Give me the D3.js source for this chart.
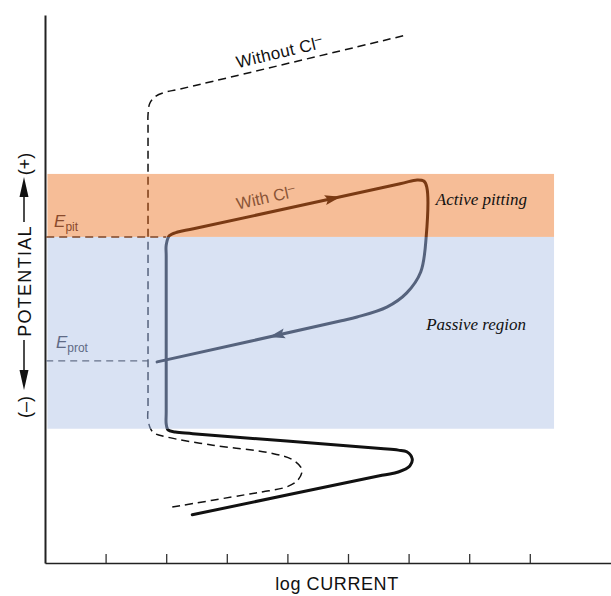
<!DOCTYPE html>
<html>
<head>
<meta charset="utf-8">
<script src="https://cdn.jsdelivr.net/npm/d3@7"></script>
<style>
  body { margin: 0; background: #fff; }
  svg { display: block; font-family: "Liberation Sans", Arial, sans-serif; }
</style>
</head>
<body>
<div id="chart"></div>
<script>
// log current in decades (x), potential in arbitrary units (y)
const xTicks = [1, 2, 3, 4, 5, 6, 7, 8];

const withCl = [
  [2.43, 8.8], [5.56, 16.0], [5.83, 16.6], [6.02, 17.7], [6.06, 19.0], [5.97, 20.3],
  [5.83, 20.6], [5.54, 20.9], [2.44, 23.6], [2.15, 23.9], [2.03, 24.3], [2.00, 25.4],
  [2.00, 27.5], [2.00, 56.0], [2.00, 58.0], [2.05, 59.7], [2.19, 60.4], [2.45, 61.0],
  [5.86, 69.2], [6.14, 69.9], [6.25, 69.7], [6.30, 68.6], [6.29, 59.5], [6.20, 53.1],
  [5.97, 49.3], [5.64, 46.7], [5.15, 44.9], [4.89, 44.2], [1.85, 36.7]
];

const withoutCl = [
  [2.10, 10.2], [3.38, 12.6], [3.60, 13.0], [3.99, 13.9], [4.17, 15.1], [4.24, 17.0],
  [4.09, 18.8], [3.71, 20.1], [2.77, 21.5], [2.01, 23.0], [1.78, 23.9], [1.70, 26.1],
  [1.70, 28.5], [1.70, 79.5], [1.70, 81.8], [1.73, 83.9], [1.83, 85.2], [1.98, 85.9],
  [2.23, 86.5], [5.91, 96.2]
];

const bandNames = ["Active pitting", "Passive region"];
const bandLow = [59.5, 24.5];
const bandHigh = [71.0, 59.5];
const bandRight = 8.4;

const ePit = 59.5;
const eProt = 36.9;

// arrows on the "with Cl-" loop: segment start index and fraction along it
const arrowSeg = [17, 27];
const arrowT = [0.675, 0.35];

const width = 611, height = 596;
const x = d3.scaleLinear().domain([0, 9.34]).range([45, 611]);
const y = d3.scaleLinear().domain([0, 100]).range([563, 15]);

const svg = d3.select("#chart").append("svg")
  .attr("width", width)
  .attr("height", height);

const bandFill = ["#f6bd97", "#d9e2f3"];

// shaded regions
svg.append("g")
  .selectAll("rect")
  .data(bandNames)
  .join("rect")
    .attr("x", x(0.04))
    .attr("width", x(bandRight) - x(0.04))
    .attr("y", (d, i) => y(bandHigh[i]))
    .attr("height", (d, i) => y(bandLow[i]) - y(bandHigh[i]))
    .attr("fill", (d, i) => bandFill[i]);

// axes
svg.append("g")
  .attr("transform", `translate(0,${y(0)})`)
  .call(d3.axisBottom(x).tickValues(xTicks).tickSizeInner(-9).tickSizeOuter(0).tickFormat(""))
  .call(g => g.select(".domain").attr("stroke", "#222").attr("stroke-width", 1.6))
  .call(g => g.selectAll(".tick line").attr("stroke", "#333").attr("stroke-width", 1.3));

svg.append("g")
  .attr("transform", `translate(${x(0)},0)`)
  .call(d3.axisLeft(y).tickValues([]).tickSizeOuter(0))
  .call(g => g.select(".domain").attr("stroke", "#222").attr("stroke-width", 2));

// reference potentials
svg.append("line")
  .attr("x1", x(0.02)).attr("x2", x(2.0))
  .attr("y1", y(ePit)).attr("y2", y(ePit))
  .attr("stroke", "#7f4526").attr("stroke-width", 1.4)
  .attr("stroke-dasharray", "8,5");

svg.append("line")
  .attr("x1", x(0.02)).attr("x2", x(1.7))
  .attr("y1", y(eProt)).attr("y2", y(eProt))
  .attr("stroke", "#66718a").attr("stroke-width", 1.2)
  .attr("stroke-dasharray", "7,5");

// curves, tinted by the region they pass through
const zones = [
  { lo: bandHigh[0], hi: 100, color: "#111" },
  { lo: bandLow[0], hi: bandHigh[0], color: "#7a3a14" },
  { lo: bandLow[1], hi: bandHigh[1], color: "#56637d" },
  { lo: 0, hi: bandLow[1], color: "#111" }
];

const defs = svg.append("defs");
zones.forEach((z, i) => {
  defs.append("clipPath").attr("id", "zone" + i)
    .append("rect")
    .attr("x", 0).attr("width", width)
    .attr("y", y(z.hi)).attr("height", y(z.lo) - y(z.hi));
});

const line = d3.line()
  .x(d => x(d[0]))
  .y(d => y(d[1]))
  .curve(d3.curveCatmullRom.alpha(0.5));

zones.forEach((z, i) => {
  const g = svg.append("g").attr("clip-path", `url(#zone${i})`);
  g.append("path")
    .attr("d", line(withoutCl))
    .attr("fill", "none")
    .attr("stroke", z.color)
    .attr("stroke-width", 1.5)
    .attr("stroke-dasharray", "8,5");
  g.append("path")
    .attr("d", line(withCl))
    .attr("fill", "none")
    .attr("stroke", z.color)
    .attr("stroke-width", 3)
    .attr("stroke-linejoin", "round")
    .attr("stroke-linecap", "round");
});

// direction arrows
const arrowColor = ["#7a3a14", "#56637d"];
arrowSeg.forEach((s, i) => {
  const a = withCl[s], b = withCl[s + 1], t = arrowT[i];
  const px = x(a[0] + (b[0] - a[0]) * t);
  const py = y(a[1] + (b[1] - a[1]) * t);
  const ang = Math.atan2(y(b[1]) - y(a[1]), x(b[0]) - x(a[0])) * 180 / Math.PI;
  svg.append("path")
    .attr("d", "M8,0 L-8,-5 L-5,0 L-8,5 Z")
    .attr("transform", `translate(${px},${py}) rotate(${ang})`)
    .attr("fill", arrowColor[i]);
});

// curve labels
function angle(p, q) {
  return Math.atan2(y(q[1]) - y(p[1]), x(q[0]) - x(p[0])) * 180 / Math.PI;
}
const nW = withoutCl.length;

const wo = svg.append("text")
  .attr("transform", `translate(${x(3.18)},${y(90.3)}) rotate(${angle(withoutCl[nW - 2], withoutCl[nW - 1])})`)
  .attr("font-size", 17)
  .attr("letter-spacing", 0.3)
  .attr("fill", "#111");
wo.append("tspan").text("Without Cl");
wo.append("tspan").attr("dy", -6).attr("font-size", 12).text("\u2013");

const wi = svg.append("text")
  .attr("transform", `translate(${x(3.18)},${y(64.5)}) rotate(${angle(withCl[17], withCl[18])})`)
  .attr("font-size", 16.5)
  .attr("fill", "#8a5436");
wi.append("tspan").text("With Cl");
wi.append("tspan").attr("dy", -6).attr("font-size", 12).text("\u2013");

// region labels
const bandLabelX = [6.45, 6.29];
const bandLabelY = [65.3, 42.6];
svg.append("g")
  .selectAll("text")
  .data(bandNames)
  .join("text")
    .attr("x", (d, i) => x(bandLabelX[i]))
    .attr("y", (d, i) => y(bandLabelY[i]))
    .attr("font-family", "'Liberation Serif', 'Times New Roman', serif")
    .attr("font-style", "italic")
    .attr("font-size", 17)
    .attr("fill", "#111")
    .text(d => d);

// E labels
const ep = svg.append("text")
  .attr("x", x(0.15)).attr("y", y(61.4))
  .attr("fill", "#8a4a2c").attr("font-size", 17);
ep.append("tspan").attr("font-style", "italic").text("E");
ep.append("tspan").attr("dy", 4).attr("font-size", 12).text("pit");

const epr = svg.append("text")
  .attr("x", x(0.18)).attr("y", y(39.3))
  .attr("fill", "#5f6a85").attr("font-size", 17);
epr.append("tspan").attr("font-style", "italic").text("E");
epr.append("tspan").attr("dy", 4).attr("font-size", 12).text("prot");

// axis titles
svg.append("text")
  .attr("x", 337).attr("y", 590)
  .attr("text-anchor", "middle")
  .attr("font-size", 18)
  .attr("letter-spacing", 0.6)
  .attr("fill", "#111")
  .text("log CURRENT");

const yl = svg.append("g").attr("fill", "#111");
const yLabelParts = ["(+)", "POTENTIAL", "(\u2013)"];
const yLabelPos = [164, 281, 407];
yl.selectAll("text")
  .data(yLabelParts)
  .join("text")
    .attr("transform", (d, i) => `translate(31,${yLabelPos[i]}) rotate(-90)`)
    .attr("text-anchor", "middle")
    .attr("font-size", 18)
    .attr("letter-spacing", (d, i) => i === 1 ? 1.3 : 0)
    .text(d => d);

// label arrows
yl.append("line").attr("x1", 24).attr("x2", 24).attr("y1", 222).attr("y2", 192)
  .attr("stroke", "#111").attr("stroke-width", 1.5);
yl.append("path").attr("d", "M24,177 L19.5,197 L28.5,197 Z");
yl.append("line").attr("x1", 24).attr("x2", 24).attr("y1", 340).attr("y2", 375)
  .attr("stroke", "#111").attr("stroke-width", 1.5);
yl.append("path").attr("d", "M24,390 L19.5,370 L28.5,370 Z");
</script>
</body>
</html>
